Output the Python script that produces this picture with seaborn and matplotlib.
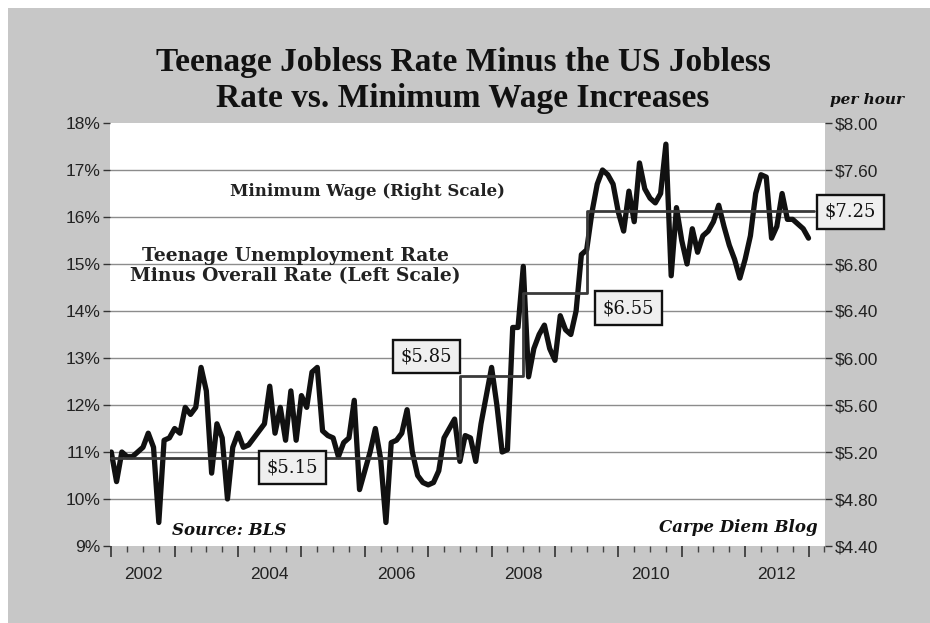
import numpy as np
import pandas as pd
import matplotlib
matplotlib.use("Agg")
import matplotlib.pyplot as plt
import seaborn as sns
from matplotlib.patches import Rectangle
from matplotlib.ticker import MultipleLocator, FuncFormatter, NullFormatter

# Monthly teenage unemployment rate minus overall rate (%), Jan 2002 onward
teen_gap = [
    11.0, 10.37, 11.0, 10.9, 10.9, 11.0, 11.1, 11.4, 11.1, 9.5,
    11.25, 11.3, 11.5, 11.4, 11.95, 11.8, 11.95, 12.8, 12.3, 10.55,
    11.6, 11.3, 10.0, 11.1, 11.4, 11.1, 11.15, 11.3, 11.45, 11.6,
    12.4, 11.4, 11.95, 11.25, 12.3, 11.25, 12.2, 11.95, 12.7, 12.8,
    11.45, 11.35, 11.3, 10.9, 11.2,
    11.3, 12.1, 10.2, 10.6, 11.0, 11.5, 10.85, 9.5, 11.2, 11.25,
    11.4, 11.9, 11.0, 10.5, 10.35, 10.3, 10.35, 10.6, 11.3, 11.5,
    11.7, 10.8, 11.35, 11.3, 10.8, 11.6, 12.2, 12.8, 12.0, 11.0,
    11.05, 13.65, 13.65, 14.95, 12.6, 13.2, 13.5, 13.7, 13.2, 12.95,
    13.9, 13.6, 13.5, 14.0, 15.2, 15.3, 16.1, 16.7, 17.0, 16.9,
    16.7, 16.1, 15.7, 16.55, 15.9, 17.15, 16.6, 16.4, 16.3, 16.5,
    17.55, 14.75, 16.2, 15.5, 15.0, 15.75, 15.25, 15.6, 15.7, 15.9,
    16.25, 15.8, 15.4, 15.1, 14.7, 15.1, 15.6, 16.5, 16.9, 16.85,
    15.55, 15.8, 16.5, 15.95, 15.95, 15.85, 15.75, 15.55,
]
start_year = 2002

# Federal minimum wage: dates of each level (decimal years) and levels ($/hour)
wage_dates = [2002.0, 2007.5, 2008.5, 2009.5, 2013.08]
wage_levels = [5.15, 5.85, 6.55, 7.25, 7.25]

# Axis tick values
pct_ticks = list(range(9, 19))
usd_ticks = [4.40, 4.80, 5.20, 5.60, 6.00, 6.40, 6.80, 7.20, 7.60, 8.00]
year_labels = [2002, 2004, 2006, 2008, 2010, 2012]

W, H = 930, 623
sns.set_theme(style="white")
plt.rcParams["font.family"] = ["Liberation Sans", "DejaVu Sans"]

fig = plt.figure(figsize=(W / 100, H / 100), dpi=100)
fig.patch.set_facecolor("white")
fig.patches.append(Rectangle((8 / W, 0), 1, 1 - 8 / H, transform=fig.transFigure,
                             fc="#c7c7c7", ec="none", zorder=-10))

ax = fig.add_axes([110 / W, 1 - 546 / H, 715 / W, 423 / H])
ax.set_facecolor("white")

df = pd.DataFrame({"date": start_year + np.arange(len(teen_gap)) / 12.0,
                   "gap": teen_gap})
sns.lineplot(data=df, x="date", y="gap", ax=ax, color="#111111", lw=3.8)

ax.set_xlim(2001.98, 2013.26)
ax.set_ylim(9, 18)
ax.set_yticks(pct_ticks)
ax.set_yticklabels([f"{v}%" for v in pct_ticks])
ax.grid(True, axis="y", color="#8c8c8c", lw=1)
ygl = ax.get_ygridlines()
ygl[0].set_visible(False)
ygl[-1].set_visible(False)
ax.set_xlabel("")
ax.set_ylabel("")
for s in ax.spines.values():
    s.set_visible(False)

ax.xaxis.set_major_locator(MultipleLocator(1))
ax.xaxis.set_major_formatter(NullFormatter())
ax.xaxis.set_minor_locator(MultipleLocator(0.25))


def year_fmt(v, pos):
    yr = int(np.floor(v + 1e-9))
    if abs(v - yr - 0.5) < 1e-6 and yr in year_labels:
        return str(yr)
    return ""


ax.xaxis.set_minor_formatter(FuncFormatter(year_fmt))
ax.tick_params(axis="x", which="major", bottom=True, length=8, width=1.2, color="#333333",
               direction="out")
ax.tick_params(axis="x", which="minor", bottom=True, length=4, width=1, color="#444444",
               direction="out", labelsize=12.5, labelcolor="#222222", pad=11)
ax.tick_params(axis="y", which="major", left=True, length=5, width=1, color="#333333",
               direction="out", labelsize=12.5, labelcolor="#222222", pad=2)

ax2 = ax.twinx()
sns.lineplot(x=wage_dates, y=wage_levels, ax=ax2, drawstyle="steps-post",
             color="#3a3a3a", lw=2.0)
ax2.set_ylim(4.40, 8.00)
ax2.set_yticks(usd_ticks)
# the $7.25 level box sits over the $7.20 tick, so that label is left blank
ax2.set_yticklabels(["" if abs(v - 7.20) < 1e-9 else f"${v:.2f}" for v in usd_ticks])
ax2.tick_params(axis="y", which="major", right=True, length=5, width=1, color="#333333",
                direction="out", labelsize=12.5, labelcolor="#222222", pad=2)
ax2.set_ylabel("")
for s in ax2.spines.values():
    s.set_visible(False)
ax2.grid(False)

serif = ["DejaVu Serif"]
box = dict(boxstyle="square,pad=0.42", fc="#efefef", ec="#111111", lw=1.7)
label_pos = [(2004.86, 5.065), (2006.97, 6.01), (2010.16, 6.425), (2013.66, 7.243)]
for (lx, ly), lvl in zip(label_pos, wage_levels[:4]):
    ax2.text(lx, ly, f"${lvl:.2f}", ha="center", va="center", family=serif,
             fontsize=13, color="#111111", bbox=box, clip_on=False, zorder=5)

ax.text(2006.05, 16.55, "Minimum Wage (Right Scale)", ha="center", va="center",
        family=serif, fontweight="bold", fontsize=12, color="#222222")
ax.text(2004.9, 14.96, "Teenage Unemployment Rate\nMinus Overall Rate (Left Scale)",
        ha="center", va="center", family=serif, fontweight="bold", fontsize=13.5,
        color="#222222", linespacing=1.15)
ax.text(2003.86, 9.32, "Source: BLS", ha="center", va="center", family=serif,
        fontweight="bold", style="italic", fontsize=12, color="#111111")
ax.text(2011.89, 9.40, "Carpe Diem Blog", ha="center", va="center", family=serif,
        fontweight="bold", style="italic", fontsize=12, color="#111111")

fig.text(463 / W, 1 - 63 / H, "Teenage Jobless Rate Minus the US Jobless",
         ha="center", va="center", family=["Liberation Serif"], fontweight="bold",
         fontsize=24, color="#111111")
fig.text(463 / W, 1 - 99 / H, "Rate vs. Minimum Wage Increases",
         ha="center", va="center", family=["Liberation Serif"], fontweight="bold",
         fontsize=24, color="#111111")
fig.text(867 / W, 1 - 100 / H, "per hour", ha="center", va="center", family=serif,
         fontweight="bold", style="italic", fontsize=11, color="#111111")

fig.savefig("out.png", dpi=100, facecolor=fig.get_facecolor())
